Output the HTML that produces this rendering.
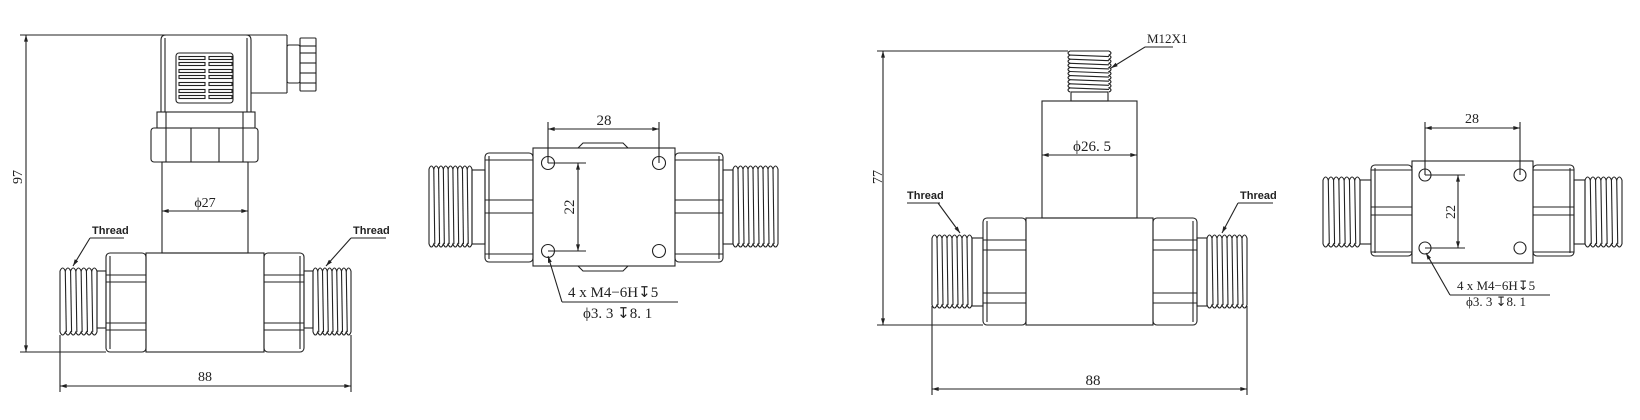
<!DOCTYPE html>
<html><head><meta charset="utf-8"><style>
html,body{margin:0;padding:0;background:#fff;width:1640px;height:420px;overflow:hidden}
svg{display:block}
text{font-family:"Liberation Serif",serif;fill:#222}
.s{font-family:"Liberation Sans",sans-serif;font-weight:bold;font-size:11px}
</style></head><body>
<svg id="g" width="1640" height="420" viewBox="0 0 1640 420" stroke="#222" stroke-width="1.1" fill="none">
<defs>
<marker id="a" viewBox="0 0 10 6" refX="10" refY="3" markerWidth="12" markerHeight="4" orient="auto-start-reverse" markerUnits="userSpaceOnUse"><path d="M0,0L10,3L0,6Z" fill="#222" stroke="none"/></marker>
</defs>
<!-- ===== VIEW 1 ===== -->
<line x1="20" y1="35" x2="287" y2="35"/>
<line x1="20" y1="352" x2="106" y2="352"/>
<line x1="26" y1="35" x2="26" y2="352" marker-start="url(#a)" marker-end="url(#a)"/>
<text x="0" y="0" font-size="14" stroke="none" transform="translate(22,177) rotate(-90)" text-anchor="middle">97</text>
<path d="M161,112V40Q161,35 166,35H246Q251,35 251,40V112"/>
<line x1="165" y1="38" x2="165" y2="112"/><line x1="247" y1="38" x2="247" y2="112"/>
<rect x="176" y="53" width="57" height="50" rx="3"/>
<g id="grille"></g>
<line x1="251" y1="93" x2="287" y2="93"/><line x1="287" y1="35" x2="287" y2="93"/>
<rect x="287" y="45" width="13" height="38" rx="2"/>
<rect x="300" y="38" width="16" height="53" rx="1"/>
<line x1="300" y1="46" x2="316" y2="46"/><line x1="300" y1="53" x2="316" y2="53"/><line x1="300" y1="63" x2="316" y2="63"/><line x1="300" y1="73" x2="316" y2="73"/><line x1="300" y1="83" x2="316" y2="83"/>
<rect x="157" y="112" width="98" height="16"/>
<line x1="166" y1="112" x2="166" y2="128"/><line x1="243" y1="112" x2="243" y2="128"/>
<rect x="151" y="128" width="107" height="34" rx="3"/>
<line x1="166" y1="128" x2="166" y2="162"/><line x1="191" y1="128" x2="191" y2="162"/><line x1="219" y1="128" x2="219" y2="162"/><line x1="243" y1="128" x2="243" y2="162"/>
<rect x="162" y="162" width="86" height="91"/>
<line x1="162" y1="211" x2="248" y2="211" marker-start="url(#a)" marker-end="url(#a)"/>
<text x="205" y="207" font-size="14" stroke="none" text-anchor="middle">ϕ27</text>
<rect x="146" y="253" width="118" height="99"/>
<line x1="60" y1="335" x2="60" y2="392"/><line x1="351" y1="335" x2="351" y2="392"/>
<line x1="60" y1="386" x2="351" y2="386" marker-start="url(#a)" marker-end="url(#a)"/>
<text x="205" y="381" font-size="14" stroke="none" text-anchor="middle">88</text>
<text x="92" y="234" class="s" stroke="none">Thread</text>
<line x1="90" y1="238" x2="124" y2="238"/>
<line x1="90" y1="238" x2="73" y2="266" marker-end="url(#a)"/>
<text x="353" y="234" class="s" stroke="none">Thread</text>
<line x1="351" y1="238" x2="386" y2="238"/>
<line x1="351" y1="238" x2="326" y2="266" marker-end="url(#a)"/>
<!-- ===== VIEW 2 ===== -->
<line x1="548" y1="122" x2="548" y2="163"/><line x1="659" y1="122" x2="659" y2="163"/>
<line x1="548" y1="129" x2="659" y2="129" marker-start="url(#a)" marker-end="url(#a)"/>
<text x="604" y="125" font-size="15" stroke="none" text-anchor="middle">28</text>
<path d="M578,148L583,143H623L628,148"/><path d="M578,266L583,271H623L628,266"/>
<rect x="533" y="148" width="142" height="118"/>
<circle cx="548" cy="163" r="6.5"/><circle cx="659" cy="163" r="6.5"/><circle cx="548" cy="251" r="6.5"/><circle cx="659" cy="251" r="6.5"/>
<line x1="548" y1="163" x2="586" y2="163"/><line x1="548" y1="251" x2="586" y2="251"/>
<line x1="578" y1="163" x2="578" y2="251" marker-start="url(#a)" marker-end="url(#a)"/>
<text font-size="15" stroke="none" text-anchor="middle" transform="translate(574,207) rotate(-90)">22</text>
<line x1="562" y1="302" x2="548" y2="256" marker-end="url(#a)"/>
<line x1="562" y1="302" x2="678" y2="302"/>
<text x="568" y="297" font-size="15" stroke="none">4 x M4−6H↧5</text>
<text x="583" y="318" font-size="15" stroke="none">ϕ3. 3 ↧8. 1</text>
<!-- ===== VIEW 3 ===== -->
<line x1="877" y1="51" x2="1068" y2="51"/><line x1="877" y1="325" x2="983" y2="325"/>
<line x1="883" y1="51" x2="883" y2="325" marker-start="url(#a)" marker-end="url(#a)"/>
<text font-size="14" stroke="none" text-anchor="middle" transform="translate(882,177) rotate(-90)">77</text>
<rect x="1071" y="92" width="37" height="9"/>
<rect x="1042" y="101" width="95" height="117"/>
<line x1="1042" y1="155" x2="1137" y2="155" marker-start="url(#a)" marker-end="url(#a)"/>
<text x="1092" y="151" font-size="15" stroke="none" text-anchor="middle">ϕ26. 5</text>
<text x="1147" y="43" font-size="13" stroke="none">M12X1</text>
<line x1="1145" y1="47" x2="1173" y2="47"/>
<line x1="1145" y1="47" x2="1111" y2="68" marker-end="url(#a)"/>
<rect x="1026" y="218" width="127" height="107"/>
<line x1="932" y1="306" x2="932" y2="395"/><line x1="1247" y1="306" x2="1247" y2="395"/>
<line x1="932" y1="389" x2="1247" y2="389" marker-start="url(#a)" marker-end="url(#a)"/>
<text x="1093" y="385" font-size="15" stroke="none" text-anchor="middle">88</text>
<text x="907" y="199" class="s" stroke="none">Thread</text>
<line x1="907" y1="203" x2="940" y2="203"/>
<line x1="938" y1="203" x2="960" y2="233" marker-end="url(#a)"/>
<text x="1240" y="199" class="s" stroke="none">Thread</text>
<line x1="1238" y1="203" x2="1273" y2="203"/>
<line x1="1238" y1="203" x2="1222" y2="233" marker-end="url(#a)"/>
<!-- ===== VIEW 4 ===== -->
<line x1="1425" y1="122" x2="1425" y2="175"/><line x1="1520" y1="122" x2="1520" y2="175"/>
<line x1="1425" y1="128" x2="1520" y2="128" marker-start="url(#a)" marker-end="url(#a)"/>
<text x="1472" y="123" font-size="14" stroke="none" text-anchor="middle">28</text>
<rect x="1412" y="161" width="121" height="102"/>
<circle cx="1425" cy="175" r="6"/><circle cx="1520" cy="175" r="6"/><circle cx="1425" cy="248" r="6"/><circle cx="1520" cy="248" r="6"/>
<line x1="1425" y1="175" x2="1465" y2="175"/><line x1="1425" y1="248" x2="1465" y2="248"/>
<line x1="1458" y1="175" x2="1458" y2="248" marker-start="url(#a)" marker-end="url(#a)"/>
<text font-size="14" stroke="none" text-anchor="middle" transform="translate(1455,212) rotate(-90)">22</text>
<line x1="1450" y1="295" x2="1426" y2="253" marker-end="url(#a)"/>
<line x1="1450" y1="295" x2="1550" y2="295"/>
<text x="1457" y="290" font-size="13" stroke="none">4 x M4−6H↧5</text>
<text x="1466" y="306" font-size="13" stroke="none">ϕ3. 3 ↧8. 1</text>
<g id="gen"></g>
</svg>
<script>
var NS="http://www.w3.org/2000/svg",G=document.getElementById("gen");
function el(t,a,p){var e=document.createElementNS(NS,t);for(var k in a)e.setAttribute(k,a[k]);(p||G).appendChild(e);return e;}
function L(x1,y1,x2,y2){el("line",{x1:x1,y1:y1,x2:x2,y2:y2});}
// grille
var gr=document.getElementById("grille");
[58,64,71,77,84,91,97].forEach(function(y){el("rect",{x:179,y:y-1.5,width:26,height:3},gr);el("rect",{x:209,y:y-1.5,width:23,height:3},gr);});
// horizontal thread
function thread(x1,x2,y1,y2,p){
 var n=Math.round((x2-x1)/p);p=(x2-x1)/n;var a=3;
 var dt="M"+x1+","+(y1+a),db="M"+x1+","+(y2-a);
 for(var i=0;i<n;i++){var x=x1+i*p;dt+=" Q"+(x+p/2)+","+(y1-a)+" "+(x+p)+","+(y1+a);db+=" Q"+(x+p/2)+","+(y2+a)+" "+(x+p)+","+(y2-a);
  if(i>0)L(x,y1+a,x+1,y2-a);}
 el("path",{d:dt});el("path",{d:db});L(x1,y1+a,x1,y2-a);L(x2,y1+a,x2,y2-a);
}
// vertical thread (top of view3)
function vthread(x1,x2,y1,y2,p){
 var n=Math.round((y2-y1)/p);p=(y2-y1)/n;var a=2;
 var dl="M"+(x1+a)+","+y1,dr="M"+(x2-a)+","+y1;
 for(var i=0;i<n;i++){var y=y1+i*p;dl+=" Q"+(x1-a)+","+(y+p/2)+" "+(x1+a)+","+(y+p);dr+=" Q"+(x2+a)+","+(y+p/2)+" "+(x2-a)+","+(y+p);
  if(i>0)L(x1+a,y,x2-a,y+1.5);}
 el("path",{d:dl});el("path",{d:dr});L(x1+a,y1,x2-a,y1);
}
function hex(x1,x2,y1,y2,ys,outerLeft){
 el("rect",{x:x1,y:y1,width:x2-x1,height:y2-y1,rx:4});
 ys.forEach(function(y){L(x1,y,x2,y);});
 var xo=outerLeft?x1+4:x2-4;L(xo,y1+3,xo,y2-3);
}
function side(xc,y1,y2,ys,hexW,neckW,thW,thTop,thBot,neckTop,neckBot,left,p){
 // xc = edge of central body
 if(left){var hx2=xc,hx1=xc-hexW;hex(hx1,hx2,y1,y2,ys,true);
  el("rect",{x:hx1-neckW,y:neckTop,width:neckW,height:neckBot-neckTop});
  thread(hx1-neckW-thW,hx1-neckW,thTop,thBot,p);}
 else{var hx1=xc,hx2=xc+hexW;hex(hx1,hx2,y1,y2,ys,false);
  el("rect",{x:hx2,y:neckTop,width:neckW,height:neckBot-neckTop});
  thread(hx2+neckW,hx2+neckW+thW,thTop,thBot,p);}
}
// view1
side(146,253,352,[275,282,323,330],40,9,37,268,335,271,328,true,5);
side(264,253,352,[275,282,323,330],40,9,38,268,335,271,328,false,5);
// view2
side(533,153,262,[160,200,213,254],48,13,43,166,247,170,244,true,5);
side(675,153,262,[160,200,213,254],48,10,45,166,247,170,244,false,5);
// view3
side(1026,218,325,[240,250,293,303],43,11,40,235,308,238,306,true,5);
side(1153,218,325,[240,250,293,303],44,10,40,235,308,238,306,false,5);
vthread(1068,1111,51,92,4);
// view4
side(1412,165,256,[170,207,215,252],41,11,37,177,247,180,244,true,5);
side(1533,165,256,[170,207,215,252],41,11,37,177,247,180,244,false,5);
</script>
</body></html>
